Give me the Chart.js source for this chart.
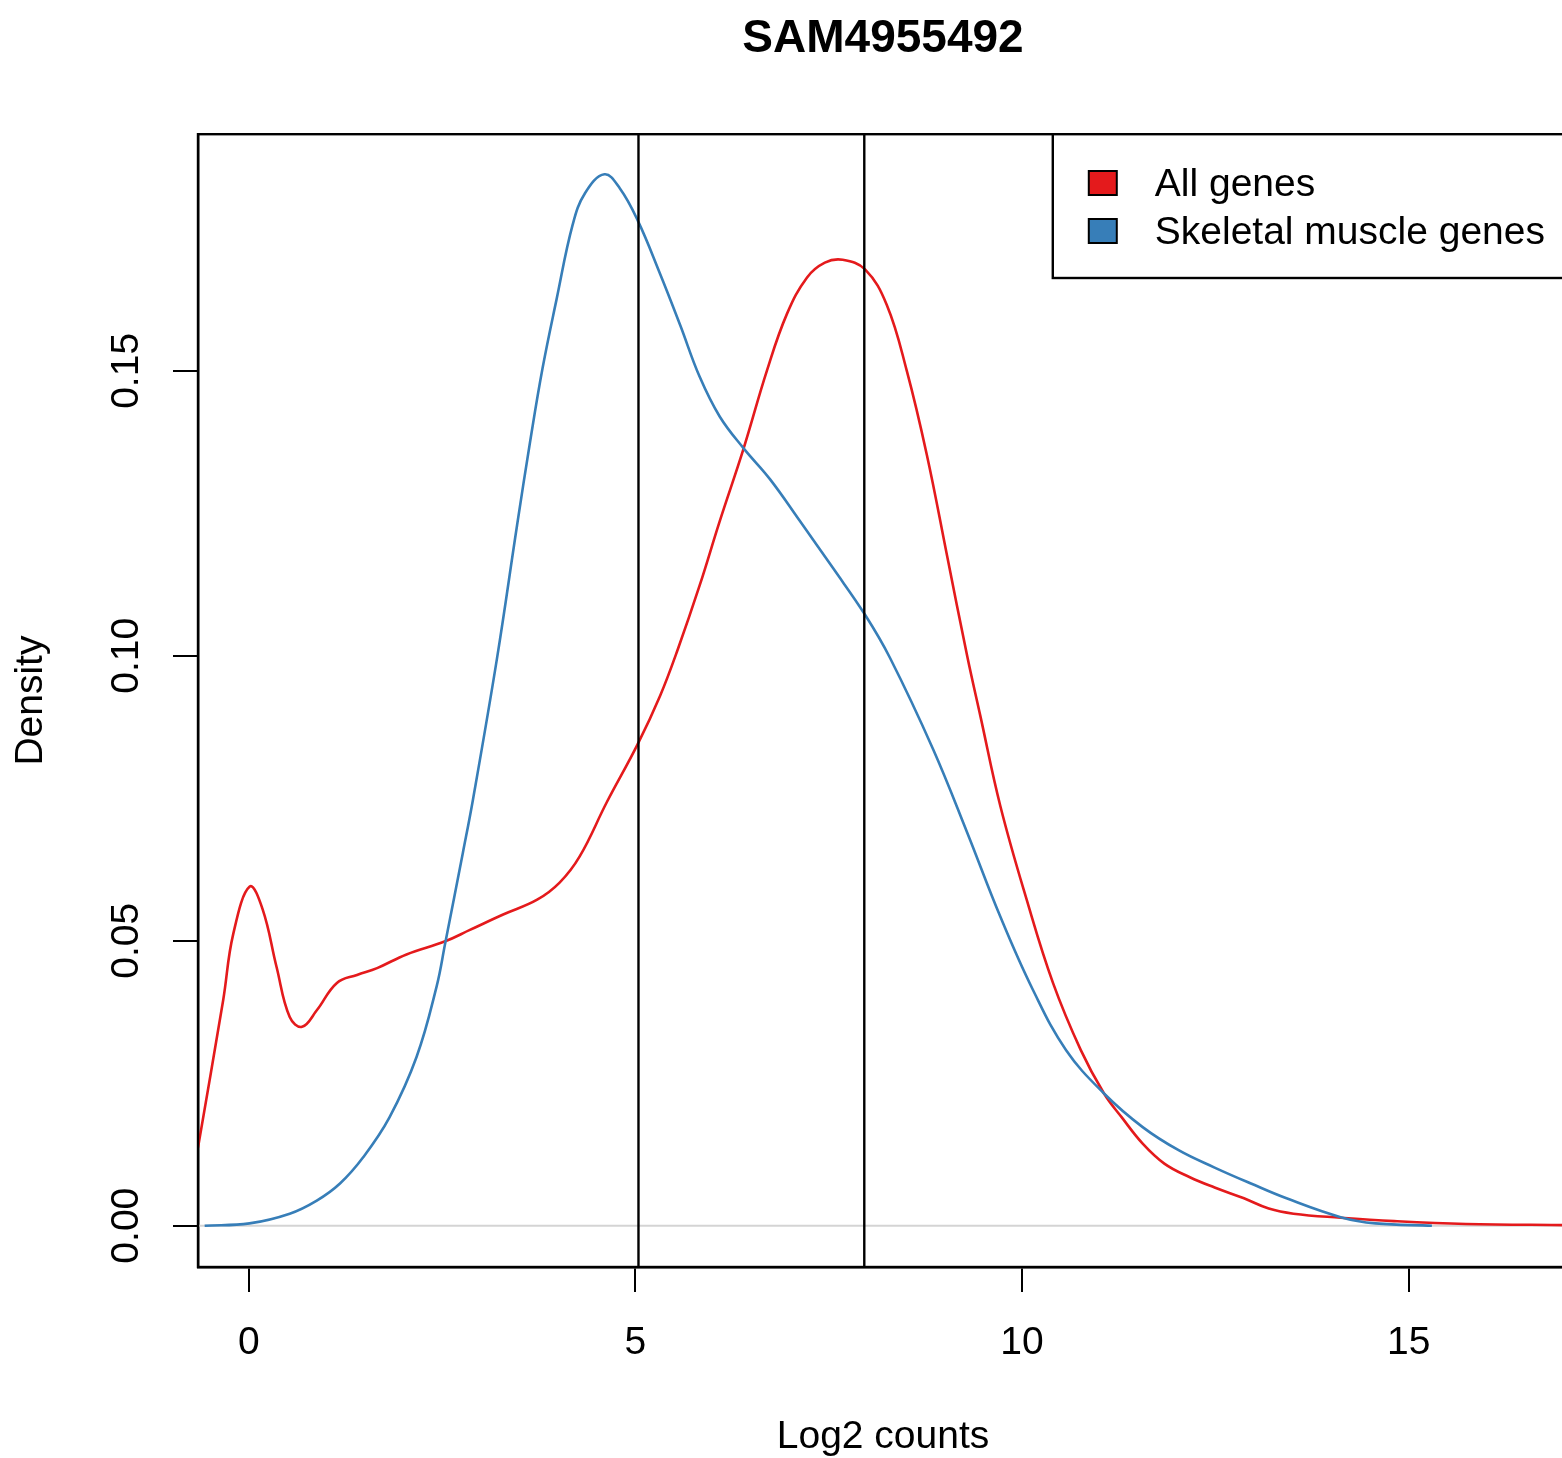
<!DOCTYPE html>
<html>
<head>
<meta charset="utf-8">
<script src="https://cdn.jsdelivr.net/npm/chart.js@4.4.1/dist/chart.umd.min.js"></script>
<style>
  html, body { margin: 0; padding: 0; background: #fff; overflow: hidden; }
  #wrap { width: 1570px; height: 1458px; }
</style>
</head>
<body>
<div id="wrap"><canvas id="densityChart" width="1570" height="1458"></canvas></div>
<script>
const chartTitle = 'SAM4955492';
const seriesNames = ['All genes', 'Skeletal muscle genes'];
const seriesColors = ['#E41A1C', '#377EB8'];

// All genes density (x = log2 counts, y = density)
const allX = [-0.656, -0.33, -0.20, 0.013, 0.18, 0.36, 0.53, 0.69, 0.88, 1.14, 1.40, 1.66, 2.04, 2.54, 2.86,
  3.29, 3.73, 4.02, 4.28, 4.63, 5.03, 5.32, 5.55, 5.83, 6.09, 6.40, 6.70, 6.96, 7.22, 7.45, 7.68, 7.97, 8.25,
  8.51, 8.77, 9.03, 9.29, 9.46, 9.72, 10.06, 10.40, 10.76, 11.06, 11.29, 11.56, 11.84, 12.17, 12.49, 12.87,
  13.19, 13.51, 14.12, 14.81, 15.74, 17.06];
const allY = [0.0137, 0.0396, 0.0512, 0.0595, 0.0555, 0.0454, 0.0366, 0.0349, 0.0378, 0.0426, 0.0440,
  0.0452, 0.0476, 0.0499, 0.0519, 0.0546, 0.0572, 0.0602, 0.0648, 0.0743, 0.0845, 0.0930, 0.1012, 0.1123,
  0.1236, 0.1364, 0.1500, 0.1600, 0.1664, 0.1690, 0.1695, 0.1678, 0.1616, 0.1500, 0.1352, 0.1176, 0.1000,
  0.0895, 0.0736, 0.0572, 0.0426, 0.0308, 0.0232, 0.0190, 0.0144, 0.0109, 0.0085, 0.0067, 0.0048, 0.0030,
  0.0021, 0.0014, 0.0008, 0.0003, 0.0001];

// Skeletal muscle genes density
const muscleX = [-0.57, 0.01, 0.53, 0.88, 1.18, 1.48, 1.82, 2.17, 2.43, 2.54, 2.77, 2.90, 3.21, 3.47, 3.64, 3.80,
  3.98, 4.19, 4.35, 4.60, 4.80, 5.03, 5.32, 5.58, 5.83, 6.09, 6.40, 6.74, 7.13, 7.56, 7.97, 8.29, 8.85, 9.29,
  9.72, 10.14, 10.57, 11.06, 11.56, 12.03, 12.49, 12.96, 13.42, 14.12, 14.57, 15.30];
const muscleY = [0.0000, 0.0004, 0.0021, 0.0044, 0.0074, 0.0120, 0.0190, 0.0296, 0.0420, 0.0495, 0.0655, 0.0748,
  0.0995, 0.1229, 0.1377, 0.1505, 0.1625, 0.1757, 0.1812, 0.1845, 0.1820, 0.1764, 0.1670, 0.1580, 0.1490,
  0.1420, 0.1364, 0.1310, 0.1236, 0.1153, 0.1072, 0.0997, 0.0836, 0.0690, 0.0542, 0.0414, 0.0308, 0.0232,
  0.0173, 0.0132, 0.0102, 0.0074, 0.0048, 0.0015, 0.0004, 0.0000];

const vLines = [5.04, 7.96];
const xRange = [-0.656, 17.06];
const yRange = [-0.00725, 0.19153];
const xTicks = [0, 5, 10, 15];
const yTicks = [0, 0.05, 0.10, 0.15];

const fontFamily = "'Liberation Sans', Arial, Helvetica, sans-serif";

function toPoints(xs, ys) {
    return xs.map((x, i) => ({ x: x, y: ys[i] }));
}

const datasets = [];
vLines.forEach(v => {
    datasets.push({
        data: [{ x: v, y: yRange[0] }, { x: v, y: yRange[1] }],
        borderColor: '#000000',
        borderWidth: 2.4,
        pointRadius: 0,
        order: 0
    });
});
datasets.push({
    label: seriesNames[1],
    data: toPoints(muscleX, muscleY),
    borderColor: seriesColors[1],
    backgroundColor: seriesColors[1],
    borderWidth: 2.6,
    pointRadius: 0,
    tension: 0.4,
    order: 1
});
datasets.push({
    label: seriesNames[0],
    data: toPoints(allX, allY),
    borderColor: seriesColors[0],
    backgroundColor: seriesColors[0],
    borderWidth: 2.6,
    pointRadius: 0,
    tension: 0.4,
    order: 2
});
// zero line drawn underneath
datasets.push({
    data: [{ x: xRange[0], y: 0 }, { x: xRange[1], y: 0 }],
    borderColor: '#d4d4d4',
    borderWidth: 2,
    pointRadius: 0,
    order: 3
});

const plotBox = {
    id: 'plotBox',
    afterDatasetsDraw(chart) {
        const { ctx, chartArea } = chart;
        ctx.save();
        ctx.strokeStyle = '#000';
        ctx.lineWidth = 2.4;
        ctx.strokeRect(chartArea.left, chartArea.top, chartArea.right - chartArea.left, chartArea.bottom - chartArea.top);
        ctx.restore();
    }
};

const legendBox = {
    id: 'legendBox',
    afterDraw(chart) {
        const { ctx, chartArea } = chart;
        ctx.save();
        ctx.font = '39px ' + fontFamily;
        const textW = Math.max(...seriesNames.map(n => ctx.measureText(n).width));
        const boxW = 36 + 28 + 38 + textW + 23;
        const left = chartArea.right - boxW;
        const top = chartArea.top;
        const bottom = 278;
        ctx.fillStyle = '#fff';
        ctx.fillRect(left, top, boxW, bottom - top);
        ctx.strokeStyle = '#000';
        ctx.lineWidth = 2.4;
        ctx.strokeRect(left, top, boxW, bottom - top);
        ctx.textBaseline = 'middle';
        ctx.textAlign = 'left';
        seriesNames.forEach((name, i) => {
            const cy = 183 + i * 48;
            ctx.fillStyle = seriesColors[i];
            ctx.fillRect(left + 36, cy - 12, 28, 24);
            ctx.lineWidth = 2;
            ctx.strokeStyle = '#000';
            ctx.strokeRect(left + 36, cy - 12, 28, 24);
            ctx.fillStyle = '#000';
            ctx.fillText(name, left + 102, cy + 2);
        });
        ctx.restore();
    }
};

new Chart(document.getElementById('densityChart'), {
    type: 'line',
    data: { datasets: datasets },
    options: {
        responsive: false,
        animation: false,
        layout: { padding: { left: 0, right: 2, top: 0, bottom: 0 } },
        plugins: {
            legend: { display: false },
            tooltip: { enabled: false },
            title: {
                display: true,
                text: chartTitle,
                fullSize: false,
                color: '#000',
                font: { family: fontFamily, size: 46, weight: 'bold', lineHeight: 1.2 },
                padding: { top: 12, bottom: 67 }
            }
        },
        scales: {
            x: {
                type: 'linear',
                min: xRange[0],
                max: xRange[1],
                afterFit(scale) { scale.height = 191; },
                afterBuildTicks(scale) { scale.ticks = xTicks.map(v => ({ value: v })); },
                border: { display: true, color: '#000', width: 2.4 },
                grid: { drawOnChartArea: false, drawTicks: true, tickLength: 25, color: '#000', lineWidth: 2 },
                ticks: {
                    color: '#000',
                    padding: 28,
                    maxRotation: 0,
                    autoSkip: false,
                    font: { family: fontFamily, size: 39 },
                    callback: v => String(v)
                },
                title: {
                    display: true,
                    text: 'Log2 counts',
                    color: '#000',
                    font: { family: fontFamily, size: 39, lineHeight: 1 },
                    padding: { top: 0, bottom: 1 }
                }
            },
            y: {
                type: 'linear',
                min: yRange[0],
                max: yRange[1],
                afterFit(scale) { scale.width = 198; },
                afterBuildTicks(scale) { scale.ticks = yTicks.map(v => ({ value: v })); },
                border: { display: true, color: '#000', width: 2.4 },
                grid: { drawOnChartArea: false, drawTicks: true, tickLength: 25, color: '#000', lineWidth: 2 },
                ticks: {
                    color: '#000',
                    padding: 8,
                    minRotation: 90,
                    maxRotation: 90,
                    crossAlign: 'center',
                    autoSkip: false,
                    font: { family: fontFamily, size: 39 },
                    callback: v => v.toFixed(2)
                },
                title: {
                    display: true,
                    text: 'Density',
                    color: '#000',
                    font: { family: fontFamily, size: 39, lineHeight: 1 },
                    padding: { top: 12, bottom: 0 }
                }
            }
        }
    },
    plugins: [plotBox, legendBox]
});
</script>
</body>
</html>
